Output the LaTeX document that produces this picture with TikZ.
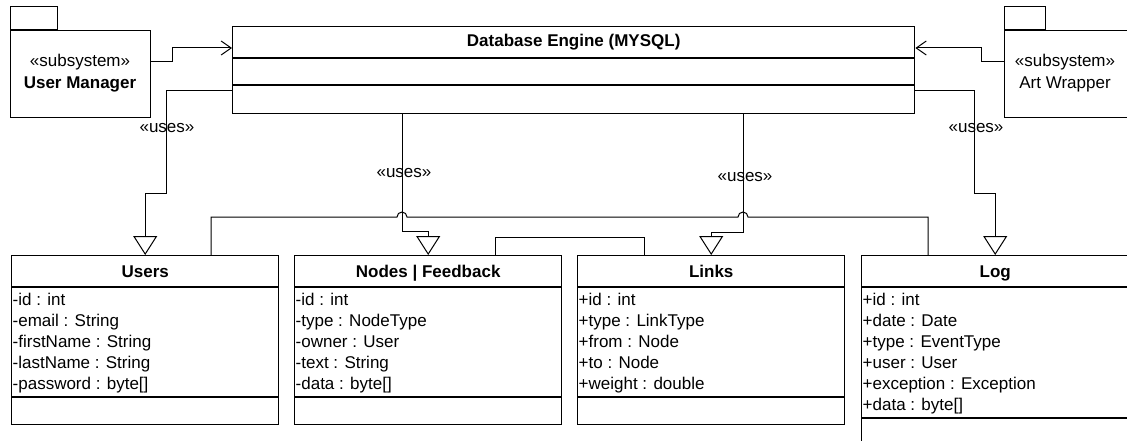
\documentclass[tikz,border=0pt]{standalone}
\usepackage{fontspec}
\setmainfont{Liberation Sans}
\usetikzlibrary{arrows.meta,calc}

\begin{document}
\begin{tikzpicture}[x=1pt,y=-1pt,
  box/.style={draw,line width=1.4pt,inner sep=0pt,anchor=north west},
  sep/.style={line width=1.4pt},
  conn/.style={line width=1pt},
  dep/.style={conn,-{Straight Barb[length=10pt,width=14pt,line width=1pt]}},
  uses/.style={conn,-{Triangle[open,length=19pt,width=24pt,line width=1pt,fill=white]}},
  lbl/.style={font=\fontsize{17}{20}\selectfont,inner sep=0pt},
  ttl/.style={font=\bfseries\fontsize{17}{20}\selectfont,inner sep=0pt},
  attr/.style={font=\fontsize{17}{21}\selectfont,inner sep=0pt,anchor=base west}
]
\path[use as bounding box] (0,0) rectangle (1127,441);
\clip (0,0) rectangle (1127,441);

% ---- database engine ----
\node[box,minimum width=682pt,minimum height=87pt] (db) at (232,26) {};
\draw[sep] ([yshift=-32pt]db.north west) -- ([yshift=-32pt]db.north east);
\draw[sep] ([yshift=-59pt]db.north west) -- ([yshift=-59pt]db.north east);
\node[ttl] (db-t) at ($(db.north)+(0,16)$) {Database Engine (MYSQL)};

% ---- subsystems ----
\node[box,minimum width=140pt,minimum height=87pt] (um) at (10,30) {};
\node[box,anchor=south west,minimum width=47pt,minimum height=23pt] (um-tab) at (um.north west) {};
\node[lbl] (um-s) at (80,62) {«subsystem»};
\node[ttl] (um-n) at (80,84) {User Manager};

\node[box,minimum width=124pt,minimum height=87pt] (aw) at (1004,30) {};
\node[box,anchor=south west,minimum width=41pt,minimum height=23pt] (aw-tab) at (aw.north west) {};
\node[lbl] (aw-s) at (1065,62) {«subsystem»};
\node[lbl] (aw-n) at (1065,84) {Art Wrapper};

% ---- tables ----
\node[box,minimum width=267pt,minimum height=169pt] (users) at (11,255) {};
\node[box,minimum width=267pt,minimum height=169pt] (nodes) at (294,255) {};
\node[box,minimum width=267pt,minimum height=169pt] (links) at (577,255) {};
\node[box,minimum width=267pt,minimum height=200pt] (log) at (861,255) {};

\foreach \b in {users,nodes,links,log}
  \draw[sep] ([yshift=-32pt]\b.north west) -- ([yshift=-32pt]\b.north east);
\foreach \b in {users,nodes,links}
  \draw[sep] ([yshift=-142pt]\b.north west) -- ([yshift=-142pt]\b.north east);
\draw[sep] ([yshift=-163pt]log.north west) -- ([yshift=-163pt]log.north east);

\node[ttl,anchor=base] (users-t) at ($(users.north)+(0,22)$) {Users};
\node[ttl,anchor=base] (nodes-t) at ($(nodes.north)+(0,22)$) {Nodes | Feedback};
\node[ttl,anchor=base] (links-t) at ($(links.north)+(0,22)$) {Links};
\node[ttl,anchor=base] (log-t) at ($(log.north)+(0,22)$) {Log};

\foreach \t [count=\i] in {-id : int,-email : String,-firstName : String,-lastName : String,-password : byte[]}
  \node[attr] (users-a\i) at ($(users.north west)+(1.5,29+21*\i)$) {\t};
\foreach \t [count=\i] in {-id : int,-type : NodeType,-owner : User,-text : String,-data : byte[]}
  \node[attr] (nodes-a\i) at ($(nodes.north west)+(1.5,29+21*\i)$) {\t};
\foreach \t [count=\i] in {+id : int,+type : LinkType,+from : Node,+to : Node,+weight : double}
  \node[attr] (links-a\i) at ($(links.north west)+(1.5,29+21*\i)$) {\t};
\foreach \t [count=\i] in {+id : int,+date : Date,+type : EventType,+user : User,+exception : Exception,+data : byte[]}
  \node[attr] (log-a\i) at ($(log.north west)+(1.5,29+21*\i)$) {\t};

% ---- subsystem dependencies ----
\draw[dep] ([yshift=-32pt]um.north east) -- (172,62) -- (172,48) -- ([yshift=-22pt]db.north west);
\draw[dep] ([yshift=-32pt]aw.north west) -- (981,62) -- (981,48) -- ([yshift=-22pt]db.north east);

% ---- uses relations ----
\draw[uses] ([yshift=-65pt]db.north west) -- (166,91) -- (166,193) -- ($(users.north)+(0,-62)$) -- (users.north);
\draw[uses] ([xshift=170pt]db.south west) -- (402,231) -- ($(nodes.north)+(0,-24)$) -- (nodes.north);
\draw[uses] ([xshift=511pt]db.south west) -- (743,232) -- ($(links.north)+(0,-23)$) -- (links.north);
\draw[uses] ([yshift=-65pt]db.north east) -- (974,91) -- (974,193) -- ($(log.north)+(0,-62)$) -- (log.north);

\node[lbl] (u1) at (167,128) {«uses»};
\node[lbl] (u2) at (404,173) {«uses»};
\node[lbl] (u3) at (745,177) {«uses»};
\node[lbl] (u4) at (976,128) {«uses»};

% ---- associations ----
\draw[conn] ([xshift=200pt]users.north west) -- (211,217) -- (397,217)
  arc[start angle=180,end angle=360,radius=5] -- (738,217)
  arc[start angle=180,end angle=360,radius=5] -- (928,217) -- ([xshift=67pt]log.north west);
\draw[conn] ([xshift=201pt]nodes.north west) -- (495,237) -- (644,237) -- ([xshift=67pt]links.north west);
\end{tikzpicture}
\end{document}
